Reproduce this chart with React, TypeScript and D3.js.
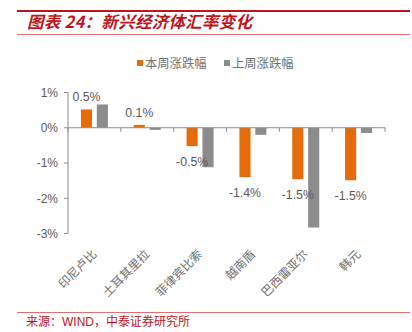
import React from "react";
import * as d3 from "d3";

const categories = ["印尼卢比", "土耳其里拉", "菲律宾比索", "越南盾", "巴西雷亚尔", "韩元"];
const seriesNames = ["本周涨跌幅", "上周涨跌幅"];
const thisWeek = [0.52, 0.08, -0.52, -1.4, -1.46, -1.49];
const lastWeek = [0.66, -0.06, -1.12, -0.2, -2.83, -0.15];
const thisWeekLabels = ["0.5%", "0.1%", "-0.5%", "-1.4%", "-1.5%", "-1.5%"];
const yTicks = [1, 0, -1, -2, -3];
const colors = ["#E46C0A", "#8C8C8C"];

const W = 412;
const H = 332;
const RED = "#C0141B";
const TXT = "#595959";
const CJK_TXT = "#6f6f6f";
const NUM_FONT = "'Liberation Sans', Arial, sans-serif";
const CJK_FONT = "'Noto Sans CJK SC', sans-serif";

export default function App() {
  const y = d3.scaleLinear().domain([-3, 1]).range([233.5, 92.5]);
  const x = d3.scaleBand<string>().domain(categories).range([68, 385]).paddingInner(0).paddingOuter(0);
  const x1 = d3.scaleBand<string>().domain(seriesNames).range([-13.5, 13.5]).paddingInner(0.3);
  const data = [thisWeek, lastWeek];
  const y0 = y(0);
  const boundaries = [...categories.map((c) => x(c) as number), 385];

  return (
    <svg width={W} height={H} style={{ position: "absolute", left: 0, top: 0, background: "#fff" }}>
      {/* Title */}
      <line x1={17} x2={410} y1={11} y2={11} stroke={RED} strokeWidth={2} />
      <text x={27} y={28} fill={RED} fontFamily={CJK_FONT} fontWeight="bold" fontStyle="italic" fontSize={16.5} textLength={225} lengthAdjust="spacing">
        图表 24：新兴经济体汇率变化
      </text>
      <line x1={17} x2={410} y1={34.5} y2={34.5} stroke="#E07070" strokeWidth={1} />

      {/* Legend */}
      {seriesNames.map((s, i) => {
        const lx = i === 0 ? 137 : 224;
        return (
          <g key={s}>
            <rect x={lx} y={60} width={6} height={6} fill={colors[i]} />
            <text x={lx + 8} y={67.5} fontFamily={CJK_FONT} fontSize={12.3} fill={CJK_TXT}>
              {s}
            </text>
          </g>
        );
      })}

      {/* Y axis */}
      <line x1={68} x2={68} y1={y(1)} y2={y(-3)} stroke="#8C8C8C" strokeWidth={1} />
      {yTicks.map((t) => (
        <g key={t}>
          <line x1={64} x2={68} y1={y(t)} y2={y(t)} stroke="#8C8C8C" />
          <text x={58} y={y(t) + 4.3} textAnchor="end" fontFamily={NUM_FONT} fontSize={12} fill={TXT}>
            {`${t}%`}
          </text>
        </g>
      ))}

      {/* Bars */}
      {categories.map((c, ci) =>
        seriesNames.map((s, si) => {
          const v = data[si][ci];
          const bx = (x(c) as number) + x.bandwidth() / 2 + (x1(s) as number);
          return (
            <rect
              key={c + s}
              x={bx}
              width={x1.bandwidth()}
              y={Math.min(y(v), y0)}
              height={Math.abs(y(v) - y0)}
              fill={colors[si]}
            />
          );
        })
      )}

      {/* X axis */}
      <line x1={68} x2={385} y1={y0} y2={y0} stroke="#8C8C8C" strokeWidth={1} />
      {boundaries.map((b, i) => (
        <line key={i} x1={b} x2={b} y1={y0} y2={y0 + 4} stroke="#8C8C8C" />
      ))}

      {/* Value labels */}
      {categories.map((c, ci) => {
        const v = thisWeek[ci];
        const cx = (x(c) as number) + x.bandwidth() / 2 + (x1(seriesNames[0]) as number) + x1.bandwidth() / 2;
        const ly = v >= 0 ? y(v) - 8 : y(v) + 20;
        return (
          <text key={c} x={cx} y={ly} textAnchor="middle" fontFamily={NUM_FONT} fontSize={12.3} fill={TXT}>
            {thisWeekLabels[ci]}
          </text>
        );
      })}

      {/* Category labels */}
      {categories.map((c) => {
        const cx = (x(c) as number) + x.bandwidth() / 2 + 3;
        const cy = 255;
        return (
          <text key={c} x={cx} y={cy} textAnchor="end" transform={`rotate(-45 ${cx} ${cy})`} fontFamily={CJK_FONT} fontSize={12} fill={CJK_TXT}>
            {c}
          </text>
        );
      })}

      {/* Footer */}
      <line x1={17} x2={410} y1={312.5} y2={312.5} stroke="#E07070" strokeWidth={1.2} />
      <text x={26} y={326} fill={RED} fontFamily={CJK_FONT} fontSize={12}>
        来源：<tspan fontFamily={NUM_FONT}>WIND</tspan>，中泰证券研究所
      </text>
    </svg>
  );
}
